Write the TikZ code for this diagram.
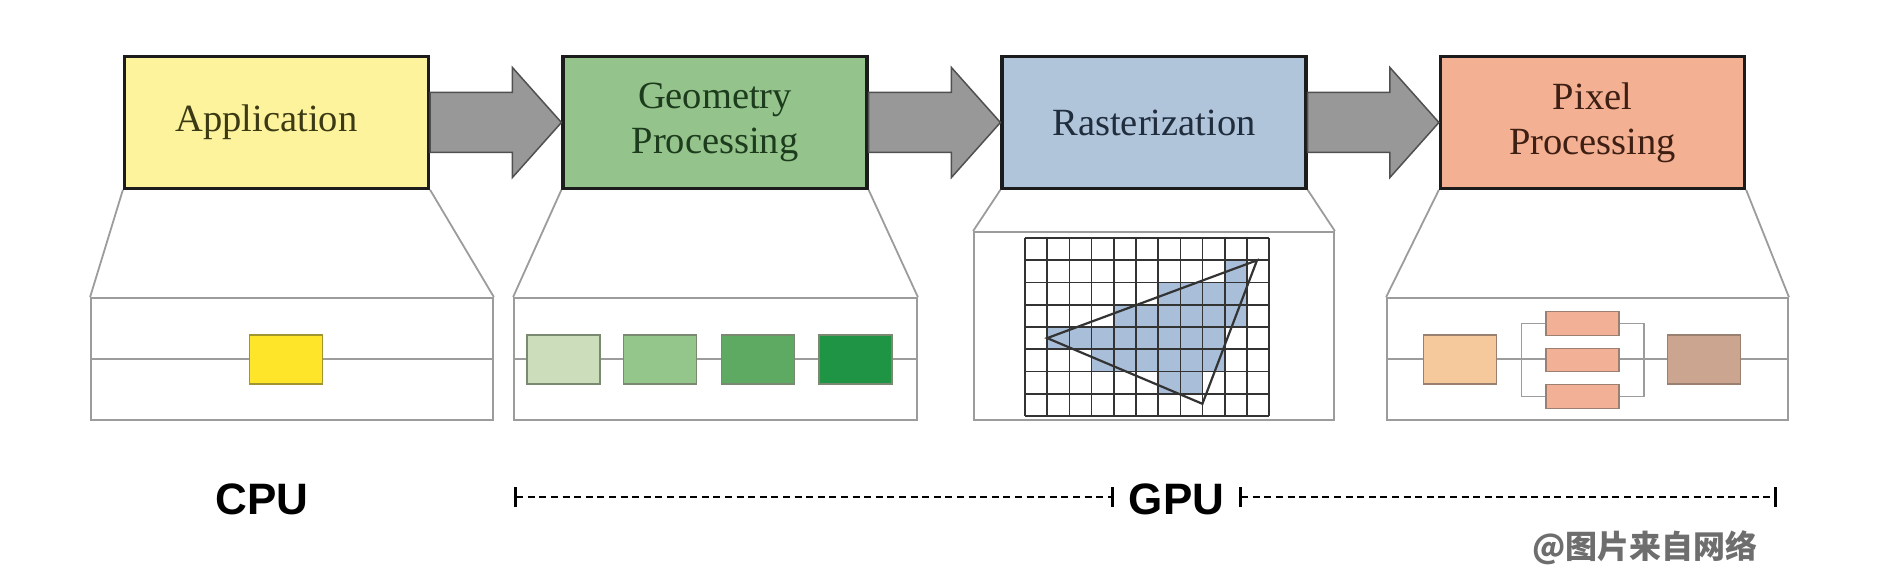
\documentclass[tikz,border=0pt]{standalone}
\usepackage{fontspec}
\setmainfont{Liberation Serif}
\newfontfamily\hv{Liberation Sans}
\newfontfamily\cjk{Noto Sans CJK SC}
\usetikzlibrary{calc,arrows.meta}
\definecolor{boxline}{HTML}{1C1C1C}
\definecolor{appfill}{HTML}{FDF39C}
\definecolor{geofill}{HTML}{94C48C}
\definecolor{rasfill}{HTML}{B0C4DA}
\definecolor{pixfill}{HTML}{F4B092}
\definecolor{apptext}{HTML}{3B3A14}
\definecolor{geotext}{HTML}{1D3B1D}
\definecolor{rastext}{HTML}{1F2D3D}
\definecolor{pixtext}{HTML}{3D1F14}
\definecolor{arrfill}{HTML}{989898}
\definecolor{arrline}{HTML}{505050}
\definecolor{panelline}{HTML}{9C9C9C}
\definecolor{ylw}{HTML}{FFE52A}
\definecolor{ylwline}{HTML}{A09530}
\definecolor{gA}{HTML}{CCDDBB}
\definecolor{gB}{HTML}{94C68C}
\definecolor{gC}{HTML}{5FAA62}
\definecolor{gD}{HTML}{1F9444}
\definecolor{gline}{HTML}{7A8A70}
\definecolor{peach}{HTML}{F6C99C}
\definecolor{pink}{HTML}{F2B096}
\definecolor{brownish}{HTML}{CBA590}
\definecolor{pline}{HTML}{9A8070}
\definecolor{cellshade}{HTML}{A9BFD9}
\definecolor{gridcol}{HTML}{333333}
\definecolor{wmgray}{HTML}{6E6E6E}
\begin{document}
\begin{tikzpicture}[x=1pt,y=-1pt,
  stage/.style={draw=boxline, line width=3.2pt, minimum width=304pt, minimum height=131.5pt,
    inner sep=0pt, align=center, font=\fontsize{38.5}{45}\selectfont},
  panel/.style={draw=panelline, line width=1.8pt, fill=white, inner sep=0pt},
  panelln/.style={draw=panelline, line width=1.8pt},
  bigarrow/.style={fill=arrfill, draw=arrline, line width=1.5pt, line join=miter},
  sbox/.style={line width=1.4pt, inner sep=0pt, minimum width=73pt, minimum height=49pt},
  tbox/.style={line width=1.4pt, inner sep=0pt, minimum width=73pt, minimum height=23.5pt, fill=pink, draw=pline},
  bracket/.style={draw=panelline, line width=1.6pt},
  gridln/.style={draw=gridcol, line width=1.7pt},
  tri/.style={draw=gridcol, line width=2.2pt, line join=miter},
  span/.style={line width=2.6pt, dash pattern=on 7pt off 4.6pt, {Bar[width=20pt,line width=3pt]}-{Bar[width=20pt,line width=3pt]}},
  big/.style={font=\hv\bfseries\fontsize{44}{50}\selectfont}
]
\useasboundingbox[fill=white] (0,0) rectangle (1878,572);

% stage boxes
\node[stage, fill=appfill, text=apptext] (app) at (276.5,122.5) {Application\hspace*{20pt}};
\node[stage, fill=geofill, text=geotext] (geo) at (715,122.5) {Geometry\\Processing};
\node[stage, fill=rasfill, text=rastext] (ras) at (1154,122.5) {Rasterization};
\node[stage, fill=pixfill, text=pixtext] (pix) at (1592.5,122.5) {Pixel\\Processing};

% big arrows between stages
\foreach \s/\t in {app/geo, geo/ras, ras/pix}{
  \path[bigarrow] ($(\s.east)+(0,-30)$) -- ($(\t.west)+(-49,-30)$) -- ($(\t.west)+(-49,-55)$)
    -- ($(\t.west)+(0,0)$) -- ($(\t.west)+(-49,55)$) -- ($(\t.west)+(-49,30)$)
    -- ($(\s.east)+(0,30)$) -- cycle;
}

% detail panels
\node[panel, minimum width=402pt, minimum height=122pt] (appP) at (292,359) {};
\node[panel, minimum width=403pt, minimum height=122pt] (geoP) at (715.5,359) {};
\node[panel, minimum width=360pt, minimum height=188pt] (rasP) at (1154,326) {};
\node[panel, minimum width=401pt, minimum height=122pt] (pixP) at (1587.5,359) {};

% zoom (trapezoid) lines
\foreach \s in {app, geo, ras, pix}{
  \draw[panelln] (\s.south west) -- (\s P.north west);
  \draw[panelln] (\s.south east) -- (\s P.north east);
}

% midlines
\draw[panelln] (appP.west) -- (appP.east);
\draw[panelln] (geoP.west) -- (geoP.east);
\draw[panelln] (pixP.west) -- (pixP.east);

% application detail
\node[sbox, fill=ylw, draw=ylwline] (a1) at (286,359.5) {};

% geometry detail
\node[sbox, fill=gA, draw=gline] (g1) at (563.5,359.5) {};
\node[sbox, fill=gB, draw=gline] (g2) at (660,359.5) {};
\node[sbox, fill=gC, draw=gline] (g3) at (758,359.5) {};
\node[sbox, fill=gD, draw=gline] (g4) at (855.5,359.5) {};

% pixel detail
\node[sbox, fill=peach, draw=pline] (p0) at (1460,359.5) {};
\node[tbox] (p1) at (1582.5,323.5) {};
\node[tbox] (p2) at (1582.5,360) {};
\node[tbox] (p3) at (1582.5,396.5) {};
\node[sbox, fill=brownish, draw=pline] (p4) at (1704,359.5) {};
\draw[bracket] (p1.west) -- ++(-24,0) |- (p3.west);
\draw[bracket] (p1.east) -- ++(24,0) |- (p3.east);

% raster grid
\foreach \r/\a/\b in {1/9/9, 2/6/9, 3/4/9, 4/1/8, 5/3/8, 6/6/7}{
  \fill[cellshade] ({1025+\a*22.2},{238+\r*22.25}) rectangle ({1025+(\b+1)*22.2},{238+(\r+1)*22.25});
}
\foreach \i in {0,...,11}{
  \draw[gridln] ({1025+\i*22.2},238) -- ({1025+\i*22.2},416);
}
\foreach \j in {0,...,8}{
  \draw[gridln] (1025,{238+\j*22.25}) -- (1269.2,{238+\j*22.25});
}
\coordinate (tA) at (1047.2,338.1);
\coordinate (tB) at (1257,260.3);
\coordinate (tC) at (1202.4,403.8);
\draw[tri] (tA) -- (tB) -- (tC) -- cycle;

% CPU / GPU
\node[big] (cpu) at (262,499) {CPU};
\node[big] (gpu) at (1176.5,499) {GPU};
\coordinate (s1) at (514,497);
\coordinate (s2) at (1114,497);
\coordinate (s3) at (1239,497);
\coordinate (s4) at (1777,497);
\draw[span] (s1) -- (s2);
\draw[span] (s3) -- (s4);

% watermark
\node[font=\cjk\bfseries\fontsize{32}{36}\selectfont, text=wmgray] (wm) at (1645,548) {@图片来自网络};
\end{tikzpicture}
\end{document}
